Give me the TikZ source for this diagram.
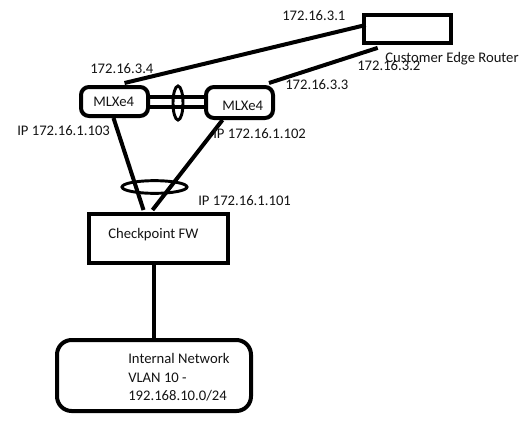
\documentclass[tikz,border=0pt]{standalone}
\usepackage{fontspec}
\setmainfont{Carlito}
\usepackage{tikz}
\usetikzlibrary{calc, positioning, shapes.geometric}
\definecolor{Ink}   {HTML}{000000}
\definecolor{Label} {HTML}{141414}

\tikzset{
  wire/.style = {Ink, line width=3pt},
  box/.style  = {draw=Ink, line width=3pt, inner sep=0pt},
  lag/.style  = {draw=Ink, line width=2.2pt, ellipse, inner sep=0pt},
  addr/.style = {Label, font=\fontsize{11}{14}\selectfont, inner sep=0pt, anchor=base west},
}

\begin{document}
\begin{tikzpicture}[x=0.75pt, y=-0.75pt]
  \fill[white] (0,0) rectangle (532,422);
  \useasboundingbox (0,0) rectangle (532,422);
  % Boxes
  \node[box, minimum width=65.7pt, minimum height=20.8pt] (router) at (407.5,29) {};
  \node[box, rounded corners=6pt, minimum width=50.25pt, minimum height=21.75pt] (mlxa) at (114.5,101.5) {};
  \node[box, rounded corners=6pt, minimum width=50.25pt, minimum height=23.25pt] (mlxb) at (239.5,102.5) {};
  \node[box, minimum width=104.25pt, minimum height=36.75pt] (fw) at (158.5,238.5) {};
  \node[box, rounded corners=11pt, minimum width=145.5pt, minimum height=53.25pt] (lan) at (154,375.5) {};
  % Links
  \draw[wire] ($(mlxa.north)+(10,-2)$) -- ($(router.west)+(4,-4)$);
  \draw[wire] ($(mlxb.north east)+(-6,-2)$) -- ($(router.south west)+(16,3)$);
  \draw[wire] ($(mlxa.east)+(0,-4.5)$) -- ($(mlxb.west)+(0,-5.5)$);
  \draw[wire] ($(mlxa.east)+(0,5.5)$) -- ($(mlxb.west)+(0,4.5)$);
  \node[lag, minimum width=7.5pt, minimum height=25.5pt] (lagmlx) at ($(mlxa.east)!0.5!(mlxb.west)+(1,1)$) {};
  \draw[wire] ($(mlxa.south)+(-1,0)$) -- ($(fw.north)+(-15,-2)$);
  \draw[wire] ($(mlxb.south)+(-17,0)$) -- ($(fw.north)+(-6,-2)$);
  \node[lag, minimum width=48.75pt, minimum height=9.5pt] (lagfw) at ($(fw.north)+(-4,-25)$) {};
  \draw[wire] (lan.north |- fw.south) -- (lan.north);
  % Labels
  \node[addr] (ceipa)   at (282,20)  {172.16.3.1};
  \node[addr] (ceipb)   at (357,70)  {172.16.3.2};
  \node[addr] (ceipc)   at (285,89)  {172.16.3.3};
  \node[addr] (ceipd)   at (90,73)   {172.16.3.4};
  \node[addr] (cename)  at (385,62)  {Customer Edge Router};
  \node[addr] (mlxaname) at (93,106)  {MLXe4};
  \node[addr] (mlxbname) at (222,110) {MLXe4};
  \node[addr] (mlxaip)  at (17,135)  {IP 172.16.1.103};
  \node[addr] (mlxbip)  at (213,138) {IP 172.16.1.102};
  \node[addr] (fwip)    at (198,205) {IP 172.16.1.101};
  \node[addr] (fwname)  at (108,238) {Checkpoint FW};
  \node[addr, anchor=north west, align=left] (lanname) at (128,353)
       {Internal Network\\VLAN 10 -\\192.168.10.0/24};
\end{tikzpicture}
\end{document}
